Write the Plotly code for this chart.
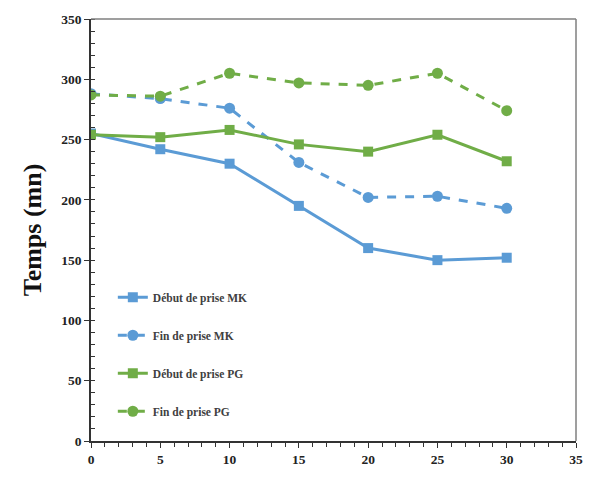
import plotly.graph_objects as go

# Temps de prise (mn) en fonction de l'ajout (%)
x_vals = [0, 5, 10, 15, 20, 25, 30]
debut_mk = [255, 242, 230, 195, 160, 150, 152]
fin_mk = [288, 284, 276, 231, 202, 203, 193]
debut_pg = [254, 252, 258, 246, 240, 254, 232]
fin_pg = [287, 286, 305, 297, 295, 305, 274]

series_names = ["Début de prise MK", "Fin de prise MK", "Début de prise PG", "Fin de prise PG"]
blue = "#5B9BD5"
green = "#70AD47"

series = [
    (debut_mk, series_names[0], blue, "solid", "square", 10),
    (fin_mk, series_names[1], blue, "dash", "circle", 11),
    (debut_pg, series_names[2], green, "solid", "square", 10),
    (fin_pg, series_names[3], green, "dash", "circle", 11),
]

fig = go.Figure()
for i, (vals, name, color, dash, symbol, msize) in enumerate(series):
    fig.add_trace(go.Scatter(
        x=x_vals, y=vals, name=name, mode="lines+markers",
        line=dict(color=color, width=3, dash=dash),
        marker=dict(color=color, symbol=symbol, size=msize),
        legendgroup=f"g{i}",
    ))

font_family = "Liberation Serif, Times New Roman, serif"

fig.update_layout(
    width=595, height=479,
    margin=dict(l=91, r=13, t=16, b=33),
    paper_bgcolor="white", plot_bgcolor="white",
    font=dict(family=font_family, color="#222222"),
    showlegend=True,
    legend=dict(
        x=0.045, y=0.375, xanchor="left", yanchor="top",
        bgcolor="rgba(0,0,0,0)",
        font=dict(family=font_family, size=11.5, color="#404040", weight="bold"),
        traceorder="grouped", tracegroupgap=19,
        itemwidth=30,
    ),
    xaxis=dict(
        range=[0, 35], tickvals=[0, 5, 10, 15, 20, 25, 30, 35],
        showgrid=False, zeroline=False,
        showline=True, linecolor="#333333", linewidth=1.5,
        mirror=False,
        ticks="outside", ticklen=5, tickwidth=1, tickcolor="#333333",
        minor=dict(dtick=1, ticks="outside", ticklen=4, tickcolor="#333333"),
        tickfont=dict(family=font_family, size=13.5, color="#222222", weight="bold"),
    ),
    yaxis=dict(
        range=[0, 350], tickvals=[0, 50, 100, 150, 200, 250, 300, 350],
        showgrid=False, zeroline=False,
        showline=True, linecolor="#333333", linewidth=1.5,
        ticks="outside", ticklen=5, tickwidth=1, tickcolor="#333333",
        minor=dict(dtick=10, ticks="inside", ticklen=4, tickcolor="#333333"),
        tickfont=dict(family=font_family, size=13.5, color="#222222", weight="bold"),
        title=dict(text="Temps (mn)", standoff=12,
                   font=dict(family=font_family, size=26, color="#111111", weight="bold")),
    ),
)

# Top and right frame lines of the plotting area
fig.add_shape(type="line", xref="paper", yref="paper", x0=0, x1=1, y0=1, y1=1,
              line=dict(color="#7f7f7f", width=1.5))
fig.add_shape(type="line", xref="paper", yref="paper", x0=1, x1=1, y0=0, y1=1,
              line=dict(color="#7f7f7f", width=1.5))

fig.write_html("out.html")
